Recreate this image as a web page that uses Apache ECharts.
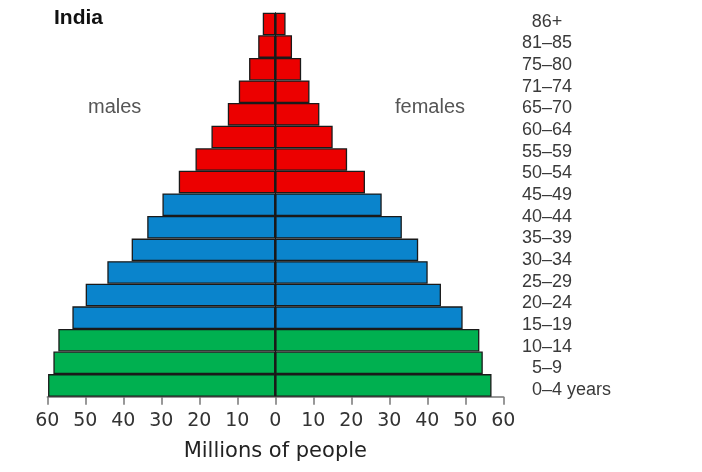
<!DOCTYPE html>
<html>
<head>
<meta charset="utf-8">
<script src="https://cdn.jsdelivr.net/npm/echarts@6/dist/echarts.min.js"></script>
<style>
html,body{margin:0;padding:0;background:#fff;}
#chart{width:702px;height:472px;}
</style>
</head>
<body>
<div id="chart"></div>
<script>
// Age groups of the bars, bottom to top
var ageGroups = ['0–4','5–9','10–14','15–19','20–24','25–29','30–34','35–39','40–44','45–49','50–54','55–59','60–64','65–69','70–74','75–79','80+'];
// Millions of people
var males   = [59.8, 58.4, 57.1, 53.4, 49.9, 44.2, 37.8, 33.7, 29.7, 25.4, 21.0, 16.8, 12.5, 9.6, 6.9, 4.5, 3.3];
var females = [56.9, 54.6, 53.7, 49.3, 43.6, 40.1, 37.6, 33.3, 28.0, 23.6, 18.9, 15.1, 11.6, 9.0, 6.8, 4.4, 2.7];
// Age tick labels as printed on the right, bottom to top
var ageLabels = ['0–4 years','5–9','10–14','15–19','20–24','25–29','30–34','35–39','40–44','45–49','50–54','55–59','60–64','65–70','71–74','75–80','81–85','86+'];

var GREEN = '#00b050', BLUE = '#0a84cc', RED = '#ec0000';
function barColor(p) {
  var i = p.dataIndex;
  return i < 3 ? GREEN : (i < 9 ? BLUE : RED);
}

var chart = echarts.init(document.getElementById('chart'));
chart.setOption({
  animation: false,
  backgroundColor: '#ffffff',
  title: {
    text: 'India',
    left: 49, top: 3,
    textStyle: { fontFamily: 'Liberation Sans, Arial, sans-serif', fontSize: 21, fontWeight: 'bold', color: '#111' }
  },
  graphic: [
    { type: 'text', left: 88, top: 97, style: { text: 'males', fontFamily: 'Liberation Sans, Arial, sans-serif', fontSize: 20, fill: '#555' } },
    { type: 'text', left: 395, top: 97, style: { text: 'females', fontFamily: 'Liberation Sans, Arial, sans-serif', fontSize: 20, fill: '#555' } }
  ],
  grid: [
    { left: 47.3, width: 456, top: 12.7, height: 384, containLabel: false },
    { left: 547, width: 10, top: 11, height: 389.7, containLabel: false }
  ],
  xAxis: [
    {
      gridIndex: 0,
      type: 'value', min: -60, max: 60, interval: 10,
      name: 'Millions of people', nameLocation: 'middle', nameGap: 44,
      nameTextStyle: { fontFamily: 'DejaVu Sans, Verdana, sans-serif', fontSize: 21, color: '#222' },
      axisLine: { show: true, lineStyle: { color: '#777', width: 1.5 } },
      axisTick: { show: true, length: 8, lineStyle: { color: '#777', width: 1.5 } },
      axisLabel: {
        margin: 15,
        fontFamily: 'DejaVu Sans, Verdana, sans-serif', fontSize: 19, color: '#333',
        formatter: function (v) { return String(Math.abs(v)); }
      },
      splitLine: { show: false }
    },
    { gridIndex: 1, type: 'value', show: false }
  ],
  yAxis: [
    {
      gridIndex: 0,
      type: 'category', data: ageGroups,
      axisLine: { show: true, onZero: true, lineStyle: { color: '#111', width: 1 } },
      axisTick: { show: false },
      axisLabel: { show: false }
    },
    {
      gridIndex: 1,
      type: 'category', data: ageLabels, position: 'left',
      axisLine: { show: false }, axisTick: { show: false },
      axisLabel: {
        interval: 0, margin: 0, align: 'center',
        fontFamily: 'Liberation Sans, Arial, sans-serif', fontSize: 18, color: '#3a3a3a',
        formatter: function (v) {
          if (v === '0–4 years') return '{p|}0–4 years';
          return v;
        },
        rich: { p: { width: 49 } }
      }
    }
  ],
  series: [
    {
      name: 'males', type: 'bar', stack: 'pop',
      xAxisIndex: 0, yAxisIndex: 0,
      data: males.map(function (v) { return -v; }),
      barWidth: '100%', barCategoryGap: 0,
      itemStyle: { color: barColor, borderColor: '#1a1a1a', borderWidth: 1.3 }
    },
    {
      name: 'females', type: 'bar', stack: 'pop',
      xAxisIndex: 0, yAxisIndex: 0,
      data: females,
      barWidth: '100%', barCategoryGap: 0,
      itemStyle: { color: barColor, borderColor: '#1a1a1a', borderWidth: 1.3 }
    }
  ]
});
</script>
</body>
</html>
